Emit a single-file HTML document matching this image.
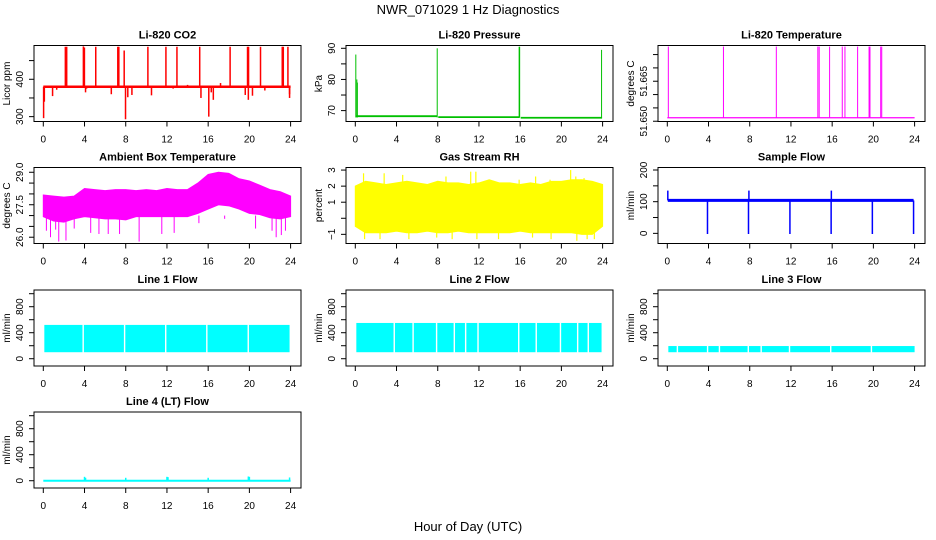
<!DOCTYPE html>
<html><head><meta charset="utf-8"><style>
html,body{margin:0;padding:0;background:#fff}
svg{display:block;font-family:"Liberation Sans",sans-serif}
</style></head><body>
<svg id="c" width="936" height="540" viewBox="0 0 936 540">
<text x="468" y="14" text-anchor="middle" font-size="13">NWR_071029  1 Hz Diagnostics</text>
<text x="468" y="531" text-anchor="middle" font-size="13">Hour of Day (UTC)</text>
</svg>
<script>
// ---------- data ----------
const hours = [0,1,2,3,4,5,6,7,8,9,10,11,12,13,14,15,16,17,18,19,20,21,22,23,24];
const xTicks = [0,4,8,12,16,20,24];
// CO2
const co2Base = 380;
const co2SpikeHours = [0.03,0.1,2.14,2.27,3.89,3.99,5.09,7.23,7.33,7.85,7.98,10.15,11.9,12.97,15.18,16.06,18.13,19.82,19.92,21.08,23.19,23.29,23.74,23.9, 0.9,1.3,4.1,4.2,6.6,8.2,8.6,10.5,12.6,14.0,15.3,16.3,16.5,17.2,19.6,19.9,20.3,21.5,23.9];
const co2SpikeVals = [296,340,487,487,488,485,487,487,487,477,293,487,487,487,487,300,487,487,487,487,487,487,487,350, 355,372,365,375,360,352,358,357,375,385,350,365,345,390,358,345,356,370,360];
// Pressure
const presSegHours = [0,8,16,24];
const presSegVals = [68.2,67.9,67.7];
const presSpikeHours = [0.05,0.15,0.2,7.95,15.9,15.95,23.9];
const presSpikeVals = [88,80,79,90,90.5,90.5,89.5];
// Li-820 temperature
const tempBase = 51.6513;
const tempSpikeHours = [0.1,5.45,10.58,14.61,14.74,15.75,16.98,17.24,18.47,19.58,19.67,20.71,20.81];
const tempSpikeVals = [51.678,51.678,51.678,51.678,51.678,51.678,51.678,51.678,51.678,51.678,51.678,51.678,51.678];
// Ambient box temperature (hourly band)
const ambMax = [27.95,27.9,27.85,27.9,28.25,28.2,28.15,28.2,28.2,28.15,28.2,28.15,28.25,28.2,28.2,28.5,28.9,29.0,28.95,28.7,28.6,28.4,28.2,28.1,27.9];
const ambMin = [26.95,26.75,26.7,26.85,26.95,26.9,26.85,26.85,26.8,26.95,26.95,26.95,26.95,26.95,26.95,27.1,27.3,27.5,27.45,27.3,27.1,27.05,26.9,26.85,26.95];
const ambLowHours = [0.3,0.7,1.2,1.5,2.2,3.0,4.6,5.4,6.3,7.4,9.3,11.5,12.7,15.1,17.6,20.6,22.2,22.6,23.1,23.5];
const ambLowVals = [26.3,26.0,26.35,25.8,25.85,26.4,26.2,26.15,26.15,26.15,25.8,26.15,26.2,26.65,26.85,26.4,26.3,26.0,26.1,26.3];
// Gas stream RH (hourly band)
const rhMax = [2.0,2.3,2.2,2.1,2.2,2.3,2.2,2.1,2.3,2.2,2.2,2.1,2.2,2.4,2.2,2.2,2.1,2.2,2.1,2.3,2.3,2.4,2.4,2.3,2.1];
const rhMin = [-0.5,-0.9,-0.9,-0.9,-0.8,-0.9,-0.9,-0.8,-0.9,-0.9,-0.8,-0.9,-0.9,-0.9,-0.9,-0.9,-0.8,-0.9,-0.9,-0.9,-0.9,-0.9,-1.0,-1.0,-0.5];
const rhSpikeHours = [0.8,2.8,4.6,8.8,11.2,11.7,15.9,17.5,18.9,20.9,21.4,22.2,0.9,2.4,5.2,7.9,9.4,11.8,13.9,17.2,19.0,21.5,22.5,23.2];
const rhSpikeVals = [2.8,2.8,2.7,2.6,2.9,2.9,2.4,2.6,2.4,3.0,2.6,2.5,-1.3,-1.3,-1.3,-1.2,-1.3,-1.3,-1.3,-1.2,-1.3,-1.4,-1.3,-1.3];
// Sample flow
const sfBase = 104;
const sfDropHours = [3.9,7.88,11.9,15.9,19.9,23.9];
const sfDropVals = [-2,-2,-2,-2,-2,-2];
const sfUpHours = [0.05,7.92,15.92];
const sfUpVals = [135,135,135];
// Line flows (band top/bottom, gaps)
const l1Top = 520, l1Bot = 100, l1Gaps = [3.86,7.88,11.87,15.86,19.88];
const l2Top = 550, l2Bot = 100, l2Gaps = [3.77,5.6,7.88,9.6,10.7,11.9,15.85,17.55,19.9,21.57,22.6];
const l3Top = 195, l3Bot = 100, l3Gaps = [0.97,3.9,5.05,7.85,9.1,11.85,15.85,19.8];
const l4Base = 0;
const l4SpikeHours = [4.0,4.1,8.0,12.0,12.1,16.0,19.9,20.0,23.9];
const l4SpikeVals = [60,45,45,60,55,45,65,60,50];

// ---------- drawing ----------
const svg = document.getElementById('c');
const NS = 'http://www.w3.org/2000/svg';
function mk(tag, attrs, parent){
  const e = document.createElementNS(NS, tag);
  for (const k in attrs) e.setAttribute(k, attrs[k]);
  (parent||svg).appendChild(e); return e;
}
const colL = [34,346,658], rowT = [45.5,167.5,290,412], W = 267, H = 76;

function panel(col,row,title,ylab,ymin,ymax,ticks,labels,name){
  const L = colL[col], T = rowT[row];
  const g = mk('g',{});
  
  
  const xs = h => L + 9.3 + h*(247.3/24);
  const ys = v => T + H - (v - ymin)/(ymax - ymin)*H;
  const P = {g,xs,ys,L,T};
  const t = mk('text',{x:L+W/2,y:T-7,'text-anchor':'middle','font-size':11,'font-weight':'bold'},g);
  t.textContent = title;
  
  
  const yl = mk('text',{transform:`translate(${L-24},${T+H/2}) rotate(-90)`,'text-anchor':'middle','font-size':10},g);
  yl.textContent = ylab;
  
  
  // x axis
  xTicks.forEach(h=>{
    mk('line',{x1:xs(h),x2:xs(h),y1:T+H,y2:T+H+5,stroke:'#000'},g);
    const tx = mk('text',{x:xs(h),y:T+H+21,'text-anchor':'middle','font-size':10},g);
    tx.textContent = h;
    
    
  });
  // y axis
  ticks.forEach((v,i)=>{
    mk('line',{x1:L-5,x2:L,y1:ys(v),y2:ys(v),stroke:'#000'},g);
    if (labels[i]!==''){
      const ty = mk('text',{transform:`translate(${L-11},${ys(v)}) rotate(-90)`,'text-anchor':'middle','font-size':10},g);
      ty.textContent = labels[i];
      
      
    }
  });
  P.data = mk('g',{},g);
  P.finish = () => mk('rect',{x:L,y:T,width:W,height:H,fill:'none',stroke:'#000','stroke-width':1},g);
  return P;
}
function vline(P,h,v0,v1,color,w,name){
  const l = mk('line',{x1:P.xs(h),x2:P.xs(h),y1:P.ys(v0),y2:P.ys(v1),stroke:color,'stroke-width':w||1},P.data);
  
  
}
function hline(P,h0,h1,v,color,w,name){
  const l = mk('line',{x1:P.xs(h0),x2:P.xs(h1),y1:P.ys(v),y2:P.ys(v),stroke:color,'stroke-width':w||1},P.data);
  
  
}
function band(P,maxA,minA,color,name){
  let d='';
  hours.forEach((h,i)=>{ d += (i?'L':'M')+P.xs(h)+','+P.ys(maxA[i]); });
  for(let i=hours.length-1;i>=0;i--) d += 'L'+P.xs(hours[i])+','+P.ys(minA[i]);
  const p = mk('path',{d:d+'Z',fill:color,stroke:color,'stroke-width':1},P.data);
  
  
}
function gapBand(P,top,bot,gaps,color,name,endH){
  const r = mk('rect',{x:P.xs(0.1),y:P.ys(top),width:P.xs(endH)-P.xs(0.1),height:P.ys(bot)-P.ys(top),fill:color},P.data);
  
  
  gaps.forEach(h=>{
    const gr = mk('rect',{x:P.xs(h)-0.6,y:P.ys(top)-1,width:1.4,height:P.ys(bot)-P.ys(top)+2,fill:'#fff'},P.data);
    
    
  });
}

// Li-820 CO2
let P = panel(0,0,'Li-820 CO2','Licor ppm',287,490.4,[300,350,400,450],['300','','400',''],'co2');
hline(P,0,24,co2Base,'#f00',2.5,'co2-baseline');
co2SpikeHours.forEach((h,i)=>vline(P,h,co2Base,co2SpikeVals[i],'#f00',1.5,'co2-spike'));
P.finish();

// Pressure
P = panel(1,0,'Li-820 Pressure','kPa',66.5,90.9,[70,75,80,85,90],['70','','80','','90'],'pressure');
presSegVals.forEach((v,i)=>hline(P,presSegHours[i]+0.05,presSegHours[i+1]-0.05,v,'#00c000',1.8,'pressure-line'));
presSpikeHours.forEach((h,i)=>vline(P,h,67.8,presSpikeVals[i],'#00c000',1,'pressure-spike'));
P.finish();

// Li-820 temperature
P = panel(2,0,'Li-820 Temperature','degrees C',51.6499,51.6784,[51.650,51.655,51.660,51.665,51.670,51.675],['51.650','','','51.665','',''],'li820-temp');
hline(P,0,24,tempBase,'#f0f',1.2,'temp-baseline');
tempSpikeHours.forEach((h,i)=>vline(P,h,tempBase,tempSpikeVals[i],'#f0f',1,'temp-spike'));
P.finish();

// Ambient box temperature
P = panel(0,1,'Ambient Box Temperature','degrees C',25.71,29.22,[26,26.5,27,27.5,28,28.5,29],['26.0','','','27.5','','','29.0'],'ambient-temp');
band(P,ambMax,ambMin,'#f0f','ambient-band');
ambLowHours.forEach((h,i)=>vline(P,h,27,ambLowVals[i],'#f0f',1,'ambient-low-spike'));
P.finish();

// Gas stream RH
P = panel(1,1,'Gas Stream RH','percent',-1.57,3.16,[-1,0,1,2,3],['\u22121','','1','2','3'],'rh');
band(P,rhMax,rhMin,'#ff0','rh-band');
rhSpikeHours.forEach((h,i)=>vline(P,h,0.5,rhSpikeVals[i],'#ff0',1.2,'rh-spike'));
P.finish();

// Sample flow
P = panel(2,1,'Sample Flow','ml/min',-32,207.9,[0,50,100,150,200],['0','','100','','200'],'sample-flow');
hline(P,0.05,23.9,sfBase,'#00f',3,'sample-flow-line');
sfDropHours.forEach((h,i)=>vline(P,h,sfBase,sfDropVals[i],'#00f',1.5,'sample-flow-drop'));
sfUpHours.forEach((h,i)=>vline(P,h,sfBase,sfUpVals[i],'#00f',1.5,'sample-flow-spike'));
P.finish();

const flowTicks=[0,200,400,600,800,1000], flowLabels=['0','','400','','800',''];
P = panel(0,2,'Line 1 Flow','ml/min',-112,1057,flowTicks,flowLabels,'line1-flow');
gapBand(P,l1Top,l1Bot,l1Gaps,'#0ff','line1-band',23.9); P.finish();
P = panel(1,2,'Line 2 Flow','ml/min',-112,1057,flowTicks,flowLabels,'line2-flow');
gapBand(P,l2Top,l2Bot,l2Gaps,'#0ff','line2-band',23.9); P.finish();
P = panel(2,2,'Line 3 Flow','ml/min',-112,1057,flowTicks,flowLabels,'line3-flow');
gapBand(P,l3Top,l3Bot,l3Gaps,'#0ff','line3-band',24); P.finish();
P = panel(0,3,'Line 4 (LT) Flow','ml/min',-112,1057,flowTicks,flowLabels,'line4-flow');
hline(P,0,24,l4Base,'#0ff',2,'line4-baseline');
l4SpikeHours.forEach((h,i)=>vline(P,h,l4Base,l4SpikeVals[i],'#0ff',1.5,'line4-spike'));
P.finish();
</script>
</body></html>
